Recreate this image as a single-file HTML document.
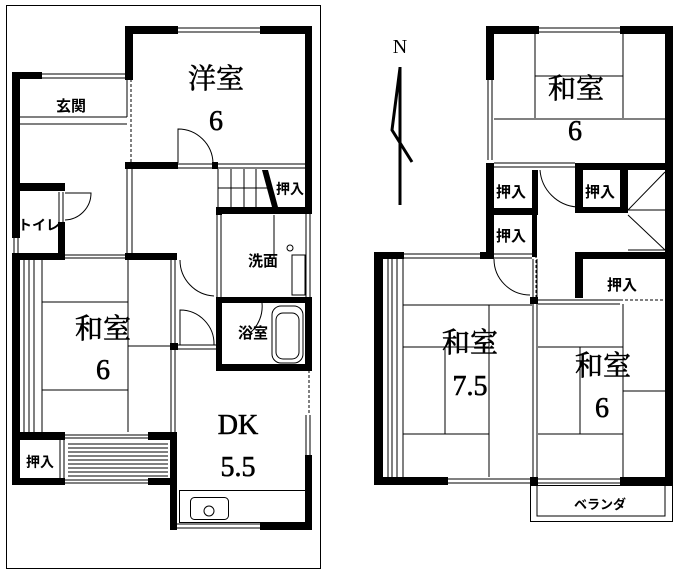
<!DOCTYPE html>
<html><head><meta charset="utf-8"><style>
html,body{margin:0;padding:0;background:#fff}
svg{display:block}
text{font-family:"Liberation Serif","Noto Serif CJK SC",serif;fill:#000}
.s{font-family:"Liberation Sans","Noto Sans CJK JP",sans-serif;font-weight:bold}
</style></head><body>
<svg width="679" height="573" viewBox="0 0 679 573" xmlns="http://www.w3.org/2000/svg">
<g fill="none" stroke="#000" stroke-width="1">
<rect x="6.5" y="5.5" width="314" height="563"/>
<line x1="178" y1="28" x2="260" y2="28"/><line x1="178" y1="32" x2="260" y2="32"/>
<line x1="42" y1="74" x2="125" y2="74"/><line x1="42" y1="78" x2="125" y2="78"/>
<line x1="20" y1="117" x2="127" y2="117"/><line x1="20" y1="124" x2="127" y2="124"/>
<line x1="127" y1="79" x2="127" y2="117"/><line x1="131" y1="79" x2="131" y2="163" stroke-dasharray="3,2"/>
<line x1="127" y1="169" x2="127" y2="253"/><line x1="132" y1="169" x2="132" y2="253"/>
<line x1="177" y1="164" x2="305" y2="164"/><line x1="177" y1="168" x2="305" y2="168"/>
<line x1="218" y1="169" x2="218" y2="207"/><line x1="231" y1="169" x2="231" y2="207"/><line x1="244" y1="169" x2="244" y2="207"/><line x1="256" y1="169" x2="256" y2="207"/>
<line x1="218" y1="188" x2="268" y2="188"/>
<line x1="59" y1="192" x2="59" y2="222"/><line x1="63" y1="192" x2="63" y2="222"/>
<path d="M65 220 A27 27 0 0 0 91 193 L65 193"/>
<line x1="14" y1="238" x2="14" y2="253"/><line x1="18" y1="238" x2="18" y2="253"/>
<line x1="65" y1="255" x2="125" y2="255"/><line x1="65" y1="258" x2="125" y2="258"/>
<path d="M178 163 L178 129 A35 35 0 0 1 213 163"/>
<line x1="24" y1="260" x2="24" y2="432"/><line x1="29" y1="260" x2="29" y2="432"/><line x1="34" y1="260" x2="34" y2="432"/>
<line x1="42" y1="260" x2="42" y2="432"/>
<line x1="128" y1="260" x2="128" y2="432"/>
<line x1="42" y1="302" x2="128" y2="302"/><line x1="42" y1="390" x2="128" y2="390"/>
<line x1="128" y1="346" x2="170" y2="346"/>
<line x1="171" y1="260" x2="171" y2="432"/><line x1="175" y1="260" x2="175" y2="432"/>
<path d="M180 260 A36 36 0 0 0 214 296"/><path d="M180 345 L180 310 A34 34 0 0 1 214 345"/>
<line x1="177" y1="345" x2="216" y2="345"/><line x1="177" y1="349" x2="216" y2="349"/>
<line x1="217" y1="215" x2="217" y2="297"/><line x1="221" y1="215" x2="221" y2="297"/>
<line x1="274" y1="215" x2="274" y2="258"/>
<rect x="292" y="255" width="13" height="40"/>
<circle cx="290" cy="248" r="3"/>
<rect x="272" y="306" width="31" height="57" rx="9"/><rect x="276" y="313" width="23" height="46" rx="7"/>
<path d="M262 303 A35 35 0 0 1 250 333"/>
<line x1="306" y1="213" x2="306" y2="297"/><line x1="310" y1="213" x2="310" y2="297"/>
<line x1="309" y1="370" x2="309" y2="415" stroke-dasharray="3,2"/>
<line x1="306" y1="415" x2="306" y2="455"/><line x1="310" y1="415" x2="310" y2="455"/>
<rect x="179.5" y="490.5" width="126" height="32"/>
<rect x="190.5" y="497.5" width="38" height="22" rx="4"/><circle cx="209" cy="511" r="5"/>
<line x1="177" y1="524" x2="260" y2="524"/><line x1="177" y1="528" x2="260" y2="528"/>
<line x1="65" y1="435" x2="148" y2="435"/><line x1="65" y1="438" x2="148" y2="438"/>
<line x1="65" y1="480" x2="148" y2="480"/><line x1="65" y1="483" x2="148" y2="483"/>
<line x1="68" y1="444" x2="168" y2="444"/><line x1="68" y1="448" x2="168" y2="448"/><line x1="68" y1="452" x2="168" y2="452"/><line x1="68" y1="456" x2="168" y2="456"/><line x1="68" y1="460" x2="168" y2="460"/><line x1="68" y1="464" x2="168" y2="464"/><line x1="68" y1="468" x2="168" y2="468"/><line x1="68" y1="472" x2="168" y2="472"/><line x1="68" y1="476" x2="168" y2="476"/>
<line x1="60" y1="440" x2="60" y2="478"/><line x1="64" y1="440" x2="64" y2="478"/>

<line x1="539" y1="28" x2="620" y2="28"/><line x1="539" y1="32" x2="620" y2="32"/>
<line x1="488" y1="80" x2="488" y2="160"/><line x1="492" y1="80" x2="492" y2="160"/>
<line x1="535" y1="34" x2="535" y2="118"/><line x1="623" y1="34" x2="623" y2="118"/>
<line x1="535" y1="76" x2="623" y2="76"/><line x1="494" y1="119" x2="665" y2="119"/>
<line x1="494" y1="163" x2="575" y2="163"/><line x1="494" y1="167" x2="575" y2="167"/>
<path d="M540 170 A40 40 0 0 0 577 207"/>
<line x1="577" y1="170" x2="577" y2="207"/>
<line x1="536" y1="215" x2="536" y2="300" stroke-dasharray="3,2"/>
<line x1="628" y1="210" x2="665" y2="210"/><line x1="628" y1="250" x2="665" y2="250"/>
<line x1="628" y1="210" x2="665" y2="172"/><line x1="628" y1="215" x2="665" y2="250"/>
<line x1="404" y1="254" x2="480" y2="254"/><line x1="404" y1="258" x2="480" y2="258"/>
<line x1="494" y1="254" x2="532" y2="254"/><line x1="494" y1="258" x2="532" y2="258"/>
<path d="M494 259 A36 36 0 0 0 530 295"/>
<line x1="533" y1="259" x2="533" y2="477"/><line x1="537" y1="259" x2="537" y2="477"/>
<line x1="388" y1="259" x2="388" y2="477"/><line x1="392" y1="259" x2="392" y2="477"/><line x1="397" y1="259" x2="397" y2="477"/>
<line x1="403" y1="259" x2="403" y2="477"/>
<line x1="403" y1="305" x2="532" y2="305"/><line x1="489" y1="305" x2="489" y2="477"/>
<line x1="403" y1="347" x2="489" y2="347"/><line x1="403" y1="434" x2="489" y2="434"/>
<line x1="445" y1="347" x2="445" y2="434"/>
<line x1="448" y1="479" x2="532" y2="479"/><line x1="448" y1="483" x2="532" y2="483"/>
<line x1="538" y1="300" x2="620" y2="300"/><line x1="538" y1="304" x2="620" y2="304"/>
<line x1="620" y1="300" x2="665" y2="300" stroke-dasharray="3,2"/>
<line x1="623" y1="304" x2="623" y2="477"/>
<line x1="538" y1="347" x2="623" y2="347"/><line x1="538" y1="434" x2="623" y2="434"/>
<line x1="580" y1="347" x2="580" y2="434"/><line x1="623" y1="391" x2="665" y2="391"/>
<line x1="538" y1="479" x2="620" y2="479"/><line x1="538" y1="483" x2="620" y2="483"/>
<rect x="530.5" y="485.5" width="142" height="36"/>
<polyline points="537,485 537,516 665,516 665,485"/>
</g>
<g fill="#000">
<rect x="125" y="26" width="53" height="8"/><rect x="260" y="26" width="52" height="8"/>
<rect x="125" y="26" width="8" height="54"/><rect x="305" y="26" width="7" height="188"/>
<rect x="125" y="162" width="53" height="7"/><rect x="212" y="162" width="6" height="7"/>
<rect x="12" y="72" width="30" height="7"/><rect x="12" y="72" width="8" height="166"/><rect x="12" y="253" width="8" height="232"/>
<rect x="20" y="183" width="45" height="8"/><rect x="58" y="222" width="7" height="36"/>
<rect x="12" y="253" width="53" height="7"/><rect x="125" y="253" width="52" height="7"/>
<rect x="216" y="207" width="96" height="7"/><rect x="216" y="207" width="6" height="8"/>
<rect x="216" y="297" width="6" height="73"/><rect x="216" y="297" width="46" height="6"/><rect x="262" y="297" width="50" height="6"/>
<rect x="216" y="364" width="96" height="7"/><rect x="305" y="297" width="7" height="74"/>
<rect x="170" y="343" width="8" height="7"/>
<rect x="12" y="432" width="53" height="8"/><rect x="148" y="432" width="29" height="8"/>
<rect x="12" y="478" width="53" height="7"/><rect x="148" y="478" width="29" height="7"/>
<rect x="170" y="432" width="7" height="98"/><rect x="260" y="522" width="52" height="8"/>
<rect x="305" y="455" width="7" height="75"/>
<polygon points="262,170 268,170 278,207 272,207"/>
<rect x="486" y="26" width="53" height="8"/><rect x="620" y="26" width="53" height="8"/>
<rect x="486" y="26" width="8" height="54"/><rect x="665" y="26" width="8" height="459"/>
<rect x="575" y="163" width="98" height="7"/>
<rect x="486" y="163" width="8" height="96"/>
<rect x="532" y="170" width="6" height="43"/><rect x="486" y="208" width="52" height="7"/>
<rect x="532" y="215" width="5" height="42"/>
<rect x="575" y="163" width="8" height="50"/><rect x="575" y="207" width="53" height="6"/><rect x="620" y="170" width="8" height="43"/>
<rect x="575" y="252" width="98" height="7"/><rect x="575" y="252" width="8" height="46"/>
<rect x="374" y="252" width="30" height="7"/><rect x="480" y="252" width="14" height="7"/>
<rect x="374" y="252" width="9" height="233"/>
<rect x="374" y="477" width="74" height="8"/><rect x="530" y="297" width="8" height="7"/><rect x="530" y="477" width="8" height="8"/>
<rect x="620" y="477" width="53" height="8"/>
</g>
<g fill="none" stroke="#000" stroke-width="3">
<line x1="400" y1="67" x2="400" y2="205"/>
<polyline points="400,68 392,130 412,162"/>
</g>
<g stroke="#000" stroke-width="0.6">
<text x="216" y="88" font-size="28" text-anchor="middle">洋室</text>
<text x="216" y="130" font-size="28" text-anchor="middle">6</text>
<text x="103" y="338" font-size="28" text-anchor="middle">和室</text>
<text x="103" y="379" font-size="28" text-anchor="middle">6</text>
<text x="238" y="434" font-size="28" text-anchor="middle">DK</text>
<text x="238" y="476" font-size="28" text-anchor="middle">5.5</text>
<text x="576" y="98" font-size="28" text-anchor="middle">和室</text>
<text x="575" y="140" font-size="28" text-anchor="middle">6</text>
<text x="470" y="352" font-size="28" text-anchor="middle">和室</text>
<text x="470" y="395" font-size="28" text-anchor="middle">7.5</text>
<text x="603" y="375" font-size="28" text-anchor="middle">和室</text>
<text x="602" y="417" font-size="28" text-anchor="middle">6</text>
</g>
<text x="400" y="53" font-size="20" text-anchor="middle">N</text>
<text x="71" y="111" font-size="15" text-anchor="middle" class="s">玄関</text>
<text x="39" y="230" font-size="14" text-anchor="middle" class="s">トイレ</text>
<text x="290" y="194" font-size="14" text-anchor="middle" class="s">押入</text>
<text x="263" y="266" font-size="15" text-anchor="middle" class="s">洗面</text>
<text x="253" y="338" font-size="15" text-anchor="middle" class="s">浴室</text>
<text x="40" y="467" font-size="14" text-anchor="middle" class="s">押入</text>
<text x="511" y="197" font-size="15" text-anchor="middle" class="s">押入</text>
<text x="600" y="197" font-size="15" text-anchor="middle" class="s">押入</text>
<text x="511" y="241" font-size="15" text-anchor="middle" class="s">押入</text>
<text x="622" y="290" font-size="15" text-anchor="middle" class="s">押入</text>
<text x="600" y="509" font-size="13" text-anchor="middle" class="s">ベランダ</text>
</svg>
</body></html>
